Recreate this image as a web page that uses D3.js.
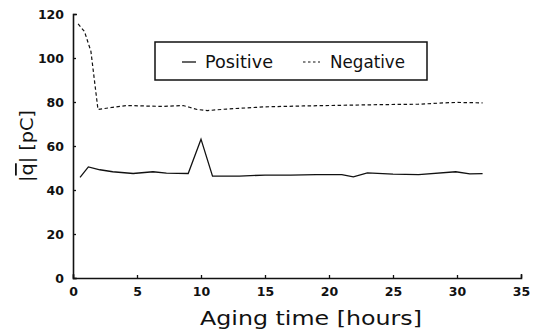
<!DOCTYPE html>
<html>
<head>
<meta charset="utf-8">
<script src="https://cdn.jsdelivr.net/npm/d3@7"></script>
<style>
  body { margin: 0; background: #fff; }
  text { font-family: "DejaVu Sans", "Liberation Sans", sans-serif; fill: #111; }
  .tick text { font-weight: bold; font-size: 12.5px; font-family: "DejaVu Sans", sans-serif; }
</style>
</head>
<body>
<svg id="chart" width="539" height="331"></svg>
<script>
// aging time [hours] and mean charge [pC]
var posTime = [0.55, 1.2, 2.1, 3.1, 4.7, 6.25, 7.3, 9.0, 10.0, 10.9, 13, 15, 17, 19, 21, 21.9, 23, 25, 27, 29.9, 31, 32];
var posCharge = [45.7, 50.5, 49.2, 48.3, 47.5, 48.3, 47.7, 47.5, 63.1, 46.3, 46.3, 46.8, 46.8, 47.0, 47.0, 46.0, 47.8, 47.2, 47.0, 48.3, 47.3, 47.4];
var negTime = [0.4, 0.9, 1.4, 1.95, 3.1, 4.2, 5.5, 7.0, 8.6, 9.1, 9.7, 10.5, 12, 15, 18, 21, 24, 27, 29, 30, 32];
var negCharge = [115.5, 112, 103, 76.6, 77.6, 78.4, 78.2, 78.0, 78.4, 77.6, 76.6, 76.1, 76.8, 77.8, 78.2, 78.5, 78.8, 79.0, 79.6, 79.8, 79.6];
var xTicks = [0, 5, 10, 15, 20, 25, 30, 35];
var yTicks = [0, 20, 40, 60, 80, 100, 120];

var svg = d3.select("#chart");
var x = d3.scaleLinear().domain([0, 35]).range([73, 521]);
var y = d3.scaleLinear().domain([0, 120]).range([278, 14]);

svg.append("g").attr("transform", "translate(0," + y(0) + ")")
  .call(d3.axisBottom(x).tickValues(xTicks).tickSizeInner(-3).tickSizeOuter(-4).tickPadding(9));
svg.append("g").attr("transform", "translate(" + x(0) + ",0)")
  .call(d3.axisLeft(y).tickValues(yTicks).tickSizeInner(-3).tickSizeOuter(-4).tickPadding(9));
svg.selectAll(".domain").attr("stroke", "#111").attr("stroke-width", 1.6);
svg.selectAll(".tick line").attr("stroke", "#111").attr("stroke-width", 1.3);

var line = d3.line().x(function (d) { return x(d[0]); }).y(function (d) { return y(d[1]); });

svg.append("path")
  .datum(d3.zip(posTime, posCharge))
  .attr("d", line).attr("fill", "none").attr("stroke", "#111").attr("stroke-width", 1.3);
svg.append("path")
  .datum(d3.zip(negTime, negCharge))
  .attr("d", line).attr("fill", "none").attr("stroke", "#111").attr("stroke-width", 1.2)
  .attr("stroke-dasharray", "3.5,2.5");

// legend
var lg = svg.append("g");
lg.append("rect").attr("x", 155).attr("y", 42).attr("width", 272).attr("height", 38)
  .attr("fill", "#fff").attr("stroke", "#111").attr("stroke-width", 1.5);
lg.append("line").attr("x1", 182).attr("x2", 196).attr("y1", 62).attr("y2", 62)
  .attr("stroke", "#111").attr("stroke-width", 1.3);
lg.append("text").attr("x", 205).attr("y", 68).attr("font-size", 17)
  .attr("textLength", 68).attr("lengthAdjust", "spacingAndGlyphs").text("Positive");
lg.append("line").attr("x1", 303).attr("x2", 320).attr("y1", 62).attr("y2", 62)
  .attr("stroke", "#111").attr("stroke-width", 1.2).attr("stroke-dasharray", "2.5,2.5");
lg.append("text").attr("x", 330).attr("y", 68).attr("font-size", 17)
  .attr("textLength", 75).attr("lengthAdjust", "spacingAndGlyphs").text("Negative");

// axis titles
svg.append("text").attr("x", 200).attr("y", 325).attr("font-size", 19)
  .attr("textLength", 222).attr("lengthAdjust", "spacingAndGlyphs").text("Aging time [hours]");
var yl = svg.append("text").attr("transform", "translate(33,182) rotate(-90)")
  .attr("font-size", 18).attr("textLength", 72).attr("lengthAdjust", "spacingAndGlyphs");
yl.append("tspan").text("|");
yl.append("tspan").attr("text-decoration", "overline").text("q");
yl.append("tspan").text("| [pC]");
</script>
</body>
</html>
